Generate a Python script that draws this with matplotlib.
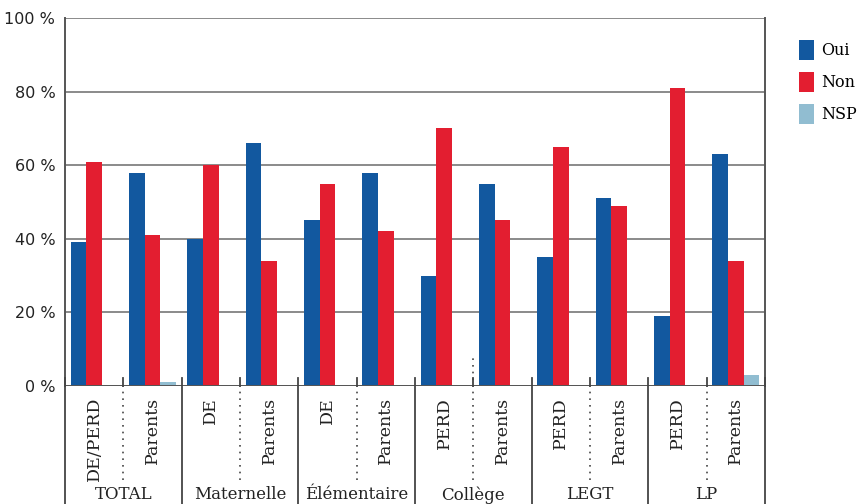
import matplotlib
matplotlib.use("Agg")
import matplotlib.pyplot as plt
import matplotlib.transforms as mtransforms
import numpy as np

categories = ["TOTAL", "Maternelle", "Élémentaire", "Collège", "LEGT", "LP"]
subgroups = ["DE/PERD", "Parents", "DE", "Parents", "DE", "Parents",
             "PERD", "Parents", "PERD", "Parents", "PERD", "Parents"]
oui = [39, 58, 40, 66, 45, 58, 30, 55, 35, 51, 19, 63]
non = [61, 41, 60, 34, 55, 42, 70, 45, 65, 49, 81, 34]
nsp = [0, 1, 0, 0, 0, 0, 0, 0, 0, 0, 0, 3]
series_names = ["Oui", "Non", "NSP"]
colors = ["#12589f", "#e31e30", "#91bdd1"]
yticks = [0, 20, 40, 60, 80, 100]
ytick_labels = ["0 %", "20 %", "40 %", "60 %", "80 %", "100 %"]

W, H = 862, 504
fig = plt.figure(figsize=(W / 100, H / 100), dpi=100)
left, right, top, zero = 65, 765, 18, 386
ax = fig.add_axes([left / W, (H - zero) / H, (right - left) / W, (zero - top) / H])

x = np.arange(len(subgroups))
bw = 0.27
for i, (vals, name, c) in enumerate(zip([oui, non, nsp], series_names, colors)):
    ax.bar(x + (i - 1) * bw, vals, width=bw, color=c, label=name, zorder=3, linewidth=0)

ax.set_xlim(-0.5, len(subgroups) - 0.5)
ax.set_ylim(0, 100)
ax.set_yticks(yticks)
ax.set_yticklabels(ytick_labels, fontsize=11.5, family="DejaVu Sans", color="#222222")
ax.tick_params(axis="y", length=0, pad=7)
ax.set_xticks([])
ax.yaxis.grid(True, color="#8a8a8a", linewidth=1.4, zorder=0)
for s in ["top", "bottom"]:
    ax.spines[s].set_visible(False)
for s in ["left", "right"]:
    ax.spines[s].set_color("#555555")
    ax.spines[s].set_linewidth(1.4)
ax.axhline(0, color="#555555", linewidth=1.4, zorder=4)

trans = mtransforms.blended_transform_factory(ax.transData, ax.transAxes)
span = zero - top
bottom_ax = -(H - zero) / span
dot_end = -(480 - zero) / span
tick_up = 8 / span

# separators below axis
for k in range(len(subgroups) + 1):
    bx = k - 0.5
    if k in (0, len(subgroups)) or k % 2 == 0:
        ax.plot([bx, bx], [bottom_ax, tick_up], transform=trans, color="#444444",
                linewidth=1.3, clip_on=False, zorder=5)
    else:
        ax.plot([bx, bx], [0, tick_up], transform=trans, color="#444444",
                linewidth=1.3, clip_on=False, zorder=5)
        top_dot = 31 / span if k == 7 else 0
        ax.plot([bx, bx], [dot_end, top_dot], transform=trans, color="#444444",
                linewidth=1.2, linestyle=(0, (1, 3)), clip_on=False, zorder=5)

label_top = -(397 - zero) / span
for xi, lab in zip(x, subgroups):
    ax.text(xi, label_top, lab, transform=trans, rotation=90, ha="center", va="top",
            fontsize=12.5, family="DejaVu Serif", color="#222222")

cat_top = -(486 - zero) / span
for j, cat in enumerate(categories):
    ax.text(2 * j + 0.5, cat_top, cat, transform=trans, ha="center", va="top",
            fontsize=12, family="DejaVu Serif", color="#222222")

fig.legend(loc="upper left", bbox_to_anchor=(799 / W, 1 - 40 / H), frameon=False,
           prop={"family": "DejaVu Serif", "size": 11.5}, handlelength=0.94,
           handleheight=1.55, labelspacing=0.75, handletextpad=0.45, borderpad=0,
           borderaxespad=0)

fig.savefig("out.png", dpi=100)
